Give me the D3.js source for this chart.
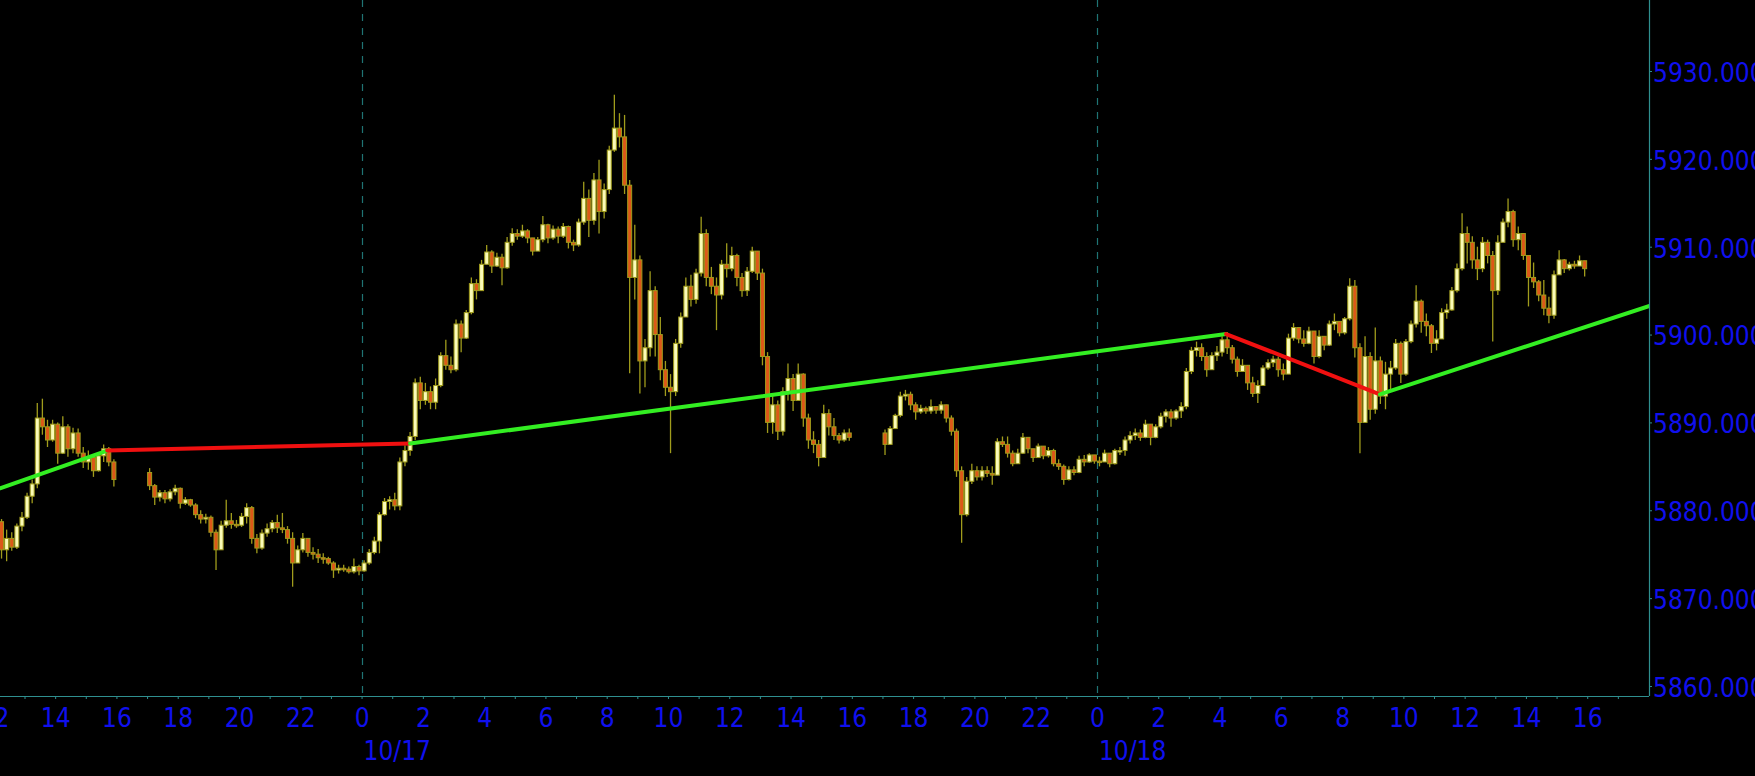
<!DOCTYPE html>
<html><head><meta charset="utf-8">
<script src="https://cdn.jsdelivr.net/npm/d3@7"></script>
<style>
html,body{margin:0;padding:0;background:#000;overflow:hidden}
svg{display:block;background:#000}
text{font-family:"DejaVu Sans Condensed","DejaVu Sans",sans-serif;font-stretch:condensed}
</style></head><body>
<svg id="c" width="1755" height="776"></svg>
<script>
// ---- data (10-minute OHLC bars) ----
const sessionStarts = ["2024-10-16T12:10Z", "2024-10-16T17:00Z", "2024-10-17T17:00Z"];
const barMinutes = 10;

const barsA = [ // 10/16 12:10 - 15:50
[5878.7,5879.0,5874.5,5875.5],[5875.5,5877.8,5874.2,5876.8],[5876.8,5877.5,5875.4,5875.8],[5875.8,5878.5,5875.6,5878.2],[5878.2,5879.8,5877.6,5879.2],
[5879.2,5882.0,5879.0,5881.6],[5881.6,5883.5,5880.8,5883.0],[5883.0,5892.2,5882.5,5890.5],[5890.5,5892.7,5888.6,5889.5],[5889.5,5890.3,5887.2,5888.0],[5888.0,5890.3,5887.8,5889.8],
[5889.8,5890.0,5885.3,5886.5],[5886.5,5890.7,5886.4,5889.5],[5889.5,5889.8,5886.1,5887.0],[5887.0,5889.4,5886.5,5888.8],[5888.8,5889.3,5886.1,5886.5],[5886.5,5887.2,5884.8,5885.5],
[5885.5,5886.8,5884.6,5886.0],[5886.0,5886.3,5883.8,5884.5],[5884.5,5886.5,5884.4,5886.2],[5886.2,5887.5,5885.5,5887.0],[5887.0,5887.2,5885.0,5885.5],[5885.5,5885.8,5882.7,5883.5]
];

const barsB = [ // 10/16 17:00 - 10/17 15:50
[5884.3,5884.8,5882.3,5882.8],[5882.8,5883.0,5880.6,5881.5],[5881.5,5882.3,5881.0,5882.0],[5882.0,5882.3,5880.8,5881.3],[5881.3,5882.4,5881.0,5882.1],[5882.1,5882.9,5881.7,5882.5],
[5882.5,5882.6,5880.2,5880.8],[5880.8,5881.5,5880.6,5881.2],[5881.2,5881.3,5880.4,5880.6],[5880.6,5880.8,5879.1,5879.5],[5879.5,5880.0,5878.5,5879.0],[5879.0,5879.6,5878.5,5879.2],
[5879.2,5879.4,5877.0,5877.5],[5877.5,5877.8,5873.2,5875.5],[5875.5,5878.8,5875.5,5878.3],[5878.3,5881.2,5878.0,5878.8],[5878.8,5879.7,5877.9,5878.4],[5878.4,5878.9,5878.0,5878.3],
[5878.3,5879.7,5878.1,5879.3],[5879.3,5880.8,5878.5,5880.3],[5880.3,5880.5,5876.2,5876.8],[5876.8,5877.3,5875.1,5875.7],[5875.7,5877.8,5875.5,5877.4],[5877.4,5878.5,5877.0,5877.9],
[5877.9,5878.9,5877.5,5878.6],[5878.6,5879.5,5877.4,5878.0],[5878.0,5879.7,5877.4,5877.8],[5877.8,5878.2,5876.2,5876.8],[5876.8,5877.5,5871.3,5874.0],[5874.0,5876.0,5874.0,5875.5],
[5875.5,5877.4,5875.2,5876.8],[5876.8,5876.8,5874.7,5875.2],[5875.2,5875.8,5874.4,5875.0],[5875.0,5875.6,5874.0,5874.6],[5874.6,5875.1,5873.9,5874.5],[5874.5,5874.7,5873.8,5874.0],
[5874.0,5874.2,5872.3,5873.2],[5873.2,5873.8,5872.8,5873.4],[5873.4,5873.8,5873.0,5873.3],[5873.3,5873.6,5872.8,5873.0],[5873.0,5874.5,5872.8,5873.6],[5873.6,5873.8,5872.6,5873.1],
[5873.1,5874.3,5873.0,5874.0],[5874.0,5875.6,5873.8,5875.2],[5875.2,5877.0,5875.0,5876.5],[5876.5,5879.8,5875.1,5879.5],[5879.5,5881.4,5879.4,5881.0],[5881.0,5881.6,5880.1,5881.2],
[5881.2,5882.0,5880.0,5880.5],[5880.5,5886.0,5880.0,5885.5],[5885.5,5887.4,5885.0,5886.8],[5886.8,5888.9,5886.2,5888.4],[5888.4,5895.0,5888.0,5894.5],[5894.5,5895.2,5891.5,5892.5],
[5892.5,5894.5,5892.0,5893.5],[5893.5,5894.1,5891.5,5892.3],[5892.3,5895.0,5891.5,5894.2],[5894.2,5898.0,5894.0,5897.6],[5897.6,5899.4,5896.0,5896.5],[5896.5,5897.5,5895.6,5896.0],
[5896.0,5901.7,5895.8,5901.2],[5901.2,5901.6,5898.0,5899.6],[5899.6,5902.8,5899.5,5902.5],[5902.5,5906.5,5902.3,5905.8],[5905.8,5906.3,5904.0,5905.0],[5905.0,5908.5,5905.0,5908.0],
[5908.0,5910.2,5908.0,5909.4],[5909.4,5909.6,5907.0,5907.8],[5907.8,5909.3,5907.7,5908.8],[5908.8,5909.2,5905.6,5907.6],[5907.6,5911.1,5907.5,5910.5],[5910.5,5912.1,5910.1,5911.5],
[5911.5,5912.0,5910.8,5911.2],[5911.2,5912.5,5911.0,5911.8],[5911.8,5912.0,5910.4,5911.0],[5911.0,5911.0,5909.0,5909.5],[5909.5,5911.1,5909.5,5910.8],[5910.8,5913.5,5910.5,5912.5],
[5912.5,5912.6,5910.4,5911.0],[5911.0,5912.4,5910.8,5912.0],[5912.0,5912.3,5910.4,5911.2],[5911.2,5912.7,5911.0,5912.3],[5912.3,5912.4,5909.8,5910.5],[5910.5,5910.8,5909.5,5910.2],
[5910.2,5913.2,5910.0,5912.8],[5912.8,5917.4,5912.5,5915.5],[5915.5,5916.5,5911.1,5913.0],[5913.0,5918.4,5912.5,5917.6],[5917.6,5919.9,5911.5,5914.0],[5914.0,5917.2,5913.2,5916.5],
[5916.5,5921.5,5916.0,5921.0],[5921.0,5927.3,5920.8,5923.5],[5923.5,5925.2,5921.3,5922.5],[5922.5,5925.0,5916.0,5917.0],[5917.0,5917.6,5895.6,5906.5],[5906.5,5912.5,5904.0,5908.5],
[5908.5,5909.0,5893.3,5897.0],[5897.0,5899.5,5894.0,5898.5],[5898.5,5907.2,5897.5,5905.0],[5905.0,5905.5,5897.5,5900.0],[5900.0,5902.0,5894.8,5896.0],[5896.0,5897.0,5893.0,5894.0],
[5894.0,5895.5,5886.5,5893.5],[5893.5,5899.5,5893.0,5899.0],[5899.0,5902.5,5898.5,5902.0],[5902.0,5906.5,5902.0,5905.5],[5905.5,5906.8,5903.2,5904.0],[5904.0,5907.5,5903.5,5907.0],
[5907.0,5913.4,5906.6,5911.5],[5911.5,5912.0,5905.5,5906.5],[5906.5,5907.7,5904.6,5905.5],[5905.5,5906.5,5900.5,5904.5],[5904.5,5908.5,5904.0,5908.0],[5908.0,5910.4,5906.5,5907.5],
[5907.5,5910.0,5907.2,5909.0],[5909.0,5909.2,5905.5,5906.5],[5906.5,5907.0,5904.3,5905.0],[5905.0,5907.7,5904.4,5907.2],[5907.2,5910.0,5907.0,5909.5],[5909.5,5909.5,5906.2,5907.0],
[5907.0,5907.5,5896.5,5897.5],[5897.5,5898.0,5888.8,5890.0],[5890.0,5893.0,5888.7,5892.0],[5892.0,5892.5,5888.0,5889.0],[5889.0,5894.0,5888.5,5893.5],[5893.5,5896.7,5892.5,5895.0],
[5895.0,5895.5,5891.3,5892.5],[5892.5,5896.7,5892.5,5895.5],[5895.5,5895.6,5889.5,5890.5],[5890.5,5891.0,5887.0,5888.0],[5888.0,5889.0,5886.5,5887.5],[5887.5,5888.0,5885.0,5886.0],
[5886.0,5892.0,5886.0,5891.0],[5891.0,5891.5,5888.5,5889.5],[5889.5,5890.5,5888.0,5888.5],[5888.5,5888.8,5887.6,5888.0],[5888.0,5889.2,5887.8,5888.8],[5888.8,5889.3,5887.9,5888.3]
];

const barsC = [ // 10/17 17:00 - 10/18 15:50
[5888.8,5889.2,5886.3,5887.5],[5887.5,5889.6,5887.5,5889.3],[5889.3,5891.0,5889.3,5890.8],[5890.8,5893.5,5890.6,5893.0],[5893.0,5893.7,5892.5,5893.2],[5893.2,5893.5,5891.4,5892.0],
[5892.0,5892.3,5890.3,5891.2],[5891.2,5892.0,5891.0,5891.6],[5891.6,5891.8,5891.0,5891.3],[5891.3,5892.6,5891.0,5891.8],[5891.8,5891.8,5891.0,5891.4],[5891.4,5892.4,5891.0,5892.0],
[5892.0,5892.0,5890.0,5890.5],[5890.5,5890.8,5888.5,5889.0],[5889.0,5889.3,5883.8,5884.5],[5884.5,5885.0,5876.3,5879.5],[5879.5,5883.8,5879.3,5883.3],[5883.3,5885.3,5883.0,5884.5],
[5884.5,5885.0,5883.4,5883.8],[5883.8,5885.0,5883.4,5884.5],[5884.5,5885.0,5883.8,5884.2],[5884.2,5885.0,5882.9,5884.0],[5884.0,5888.2,5884.0,5887.8],[5887.8,5888.4,5887.2,5887.5],
[5887.5,5888.4,5886.0,5886.5],[5886.5,5886.8,5885.0,5885.3],[5885.3,5887.0,5885.3,5886.5],[5886.5,5888.8,5886.4,5888.3],[5888.3,5888.3,5886.5,5887.0],[5887.0,5887.0,5885.5,5886.0],
[5886.0,5887.6,5886.0,5887.3],[5887.3,5887.3,5885.8,5886.2],[5886.2,5887.2,5886.0,5886.8],[5886.8,5887.0,5885.0,5885.3],[5885.3,5885.8,5884.6,5885.0],[5885.0,5885.2,5882.9,5883.5],
[5883.5,5885.0,5883.4,5884.6],[5884.6,5885.0,5884.0,5884.3],[5884.3,5886.2,5884.2,5885.8],[5885.8,5886.3,5885.0,5885.5],[5885.5,5886.5,5885.4,5886.3],[5886.3,5886.3,5885.3,5885.6],
[5885.6,5886.1,5885.0,5885.5],[5885.5,5886.9,5885.5,5886.5],[5886.5,5886.5,5884.9,5885.3],[5885.3,5887.0,5885.2,5886.8],[5886.8,5887.2,5886.3,5886.8],[5886.8,5888.4,5886.2,5888.0],
[5888.0,5889.0,5887.6,5888.5],[5888.5,5889.3,5888.0,5888.8],[5888.8,5889.2,5887.9,5888.3],[5888.3,5890.3,5888.2,5889.8],[5889.8,5889.8,5887.4,5888.3],[5888.3,5889.8,5888.2,5889.5],
[5889.5,5891.1,5889.3,5890.7],[5890.7,5891.5,5890.0,5891.2],[5891.2,5891.5,5889.5,5890.5],[5890.5,5891.5,5890.3,5891.3],[5891.3,5892.3,5890.5,5891.8],[5891.8,5896.2,5891.5,5895.8],
[5895.8,5898.6,5895.5,5898.2],[5898.2,5899.2,5897.5,5898.5],[5898.5,5899.0,5897.0,5897.5],[5897.5,5898.0,5895.2,5896.0],[5896.0,5898.0,5896.0,5897.6],[5897.6,5898.7,5897.0,5898.0],
[5898.0,5899.8,5897.5,5899.4],[5899.4,5900.3,5897.8,5898.5],[5898.5,5898.8,5896.7,5897.2],[5897.2,5897.5,5895.2,5895.8],[5895.8,5897.2,5895.8,5896.5],[5896.5,5896.5,5893.7,5894.5],
[5894.5,5895.2,5892.9,5893.3],[5893.3,5894.8,5892.2,5894.2],[5894.2,5896.5,5894.2,5896.2],[5896.2,5897.2,5896.0,5896.8],[5896.8,5897.6,5896.3,5897.2],[5897.2,5897.5,5895.2,5896.0],
[5896.0,5896.7,5894.8,5895.5],[5895.5,5900.1,5895.5,5899.6],[5899.6,5901.3,5899.3,5900.8],[5900.8,5900.8,5899.0,5899.5],[5899.5,5900.5,5898.6,5899.0],[5899.0,5900.9,5898.9,5900.4],
[5900.4,5900.4,5896.7,5897.5],[5897.5,5900.5,5897.3,5899.8],[5899.8,5899.8,5898.2,5898.8],[5898.8,5901.6,5898.7,5901.2],[5901.2,5902.4,5900.5,5901.5],[5901.5,5901.5,5899.8,5900.2],
[5900.2,5902.0,5900.0,5901.8],[5901.8,5906.4,5901.6,5905.5],[5905.5,5906.2,5897.4,5898.5],[5898.5,5899.0,5886.5,5890.0],[5890.0,5899.8,5890.0,5897.5],[5897.5,5898.0,5890.3,5891.5],
[5891.5,5900.8,5891.0,5897.0],[5897.0,5897.5,5892.1,5893.0],[5893.0,5896.9,5891.5,5895.5],[5895.5,5897.0,5893.8,5896.2],[5896.2,5899.5,5896.0,5899.0],[5899.0,5899.2,5894.5,5895.5],
[5895.5,5899.5,5895.3,5899.2],[5899.2,5901.6,5899.0,5901.2],[5901.2,5905.6,5900.8,5903.8],[5903.8,5904.0,5900.2,5901.5],[5901.5,5902.4,5899.8,5901.0],[5901.0,5901.2,5897.9,5899.0],
[5899.0,5900.5,5898.2,5899.5],[5899.5,5903.0,5899.5,5902.5],[5902.5,5903.5,5901.8,5902.8],[5902.8,5905.4,5902.7,5905.0],[5905.0,5908.1,5904.8,5907.5],[5907.5,5913.8,5907.3,5911.5],
[5911.5,5912.3,5908.1,5910.5],[5910.5,5911.2,5907.5,5908.5],[5908.5,5910.0,5906.2,5907.5],[5907.5,5911.1,5907.1,5910.5],[5910.5,5910.8,5908.1,5909.0],[5909.0,5909.5,5899.2,5905.0],
[5905.0,5911.3,5904.5,5910.5],[5910.5,5913.2,5910.5,5912.8],[5912.8,5915.5,5912.2,5914.0],[5914.0,5914.2,5910.0,5910.8],[5910.8,5912.3,5909.6,5911.5],[5911.5,5911.5,5908.5,5909.0],
[5909.0,5909.0,5903.2,5906.5],[5906.5,5908.2,5905.3,5906.0],[5906.0,5906.2,5903.8,5904.5],[5904.5,5906.2,5902.2,5903.0],[5903.0,5904.3,5901.3,5902.2],[5902.2,5907.3,5901.8,5906.8],
[5906.8,5909.6,5906.8,5908.5],[5908.5,5908.6,5907.0,5907.5],[5907.5,5908.3,5907.3,5908.0],[5908.0,5908.4,5907.5,5907.8],[5907.8,5909.0,5907.8,5908.4],[5908.4,5908.4,5906.6,5907.5]
];

// zig-zag pivots
const pivotTimes  = ["2024-10-16T12:12Z","2024-10-16T15:42Z","2024-10-17T01:35Z","2024-10-18T04:13Z","2024-10-18T09:14Z","2024-10-18T18:02Z"];
const pivotValues = [5882.5, 5886.8, 5887.6, 5900.06, 5893.2, 5903.25];
const legKinds    = ["up","down","up","down","up"];

const yTickValues = [5860,5870,5880,5890,5900,5910,5920,5930];
const dayTimes  = ["2024-10-17T00:00Z","2024-10-18T00:00Z"];
const dayLabels = ["10/17","10/18"];

// ---- drawing ----
const W = 1649, H = 696;
const FONT = '"DejaVu Sans Condensed","DejaVu Sans",sans-serif';
const C = {olive:"#a09c1c", up:"#fbfbb8", down:"#dc5818", axis:"#2f8f8f", dash:"#1f7474", text:"#1010ee", green:"#33ee22", red:"#f01010"};

const svg = d3.select("#c");
svg.append("rect").attr("width",1755).attr("height",776).attr("fill","#000");
svg.append("defs").append("clipPath").attr("id","clip").append("rect").attr("width",W).attr("height",H);

const x = d3.scaleUtc().domain([new Date("2024-10-16T12:12Z"), new Date("2024-10-18T18:01Z")]).range([0, W]);
const y = d3.scaleLinear().domain([5858.86, 5938.08]).range([H, 0]);

const plot = svg.append("g").attr("clip-path","url(#clip)");

// day separators
plot.selectAll("line.day").data(dayTimes).join("line")
  .attr("x1", d => Math.round(x(new Date(d))) + 0.5).attr("x2", d => Math.round(x(new Date(d))) + 0.5)
  .attr("y1", 0).attr("y2", H)
  .attr("stroke", C.dash).attr("stroke-width", 1.2).attr("stroke-dasharray", "7,7");

// candles
const allBars = [];
[barsA, barsB, barsC].forEach((bars, s) => {
  const t0 = new Date(sessionStarts[s]).getTime();
  bars.forEach((b, i) => allBars.push({t: new Date(t0 + (i * barMinutes + barMinutes / 2) * 60000), o:b[0], h:b[1], l:b[2], c:b[3]}));
});
const step = x(new Date(Date.UTC(2024,9,17,0,barMinutes))) - x(new Date(Date.UTC(2024,9,17,0,0)));
const bodyW = step * 0.78;

const cg = plot.append("g");
cg.selectAll("line.wick").data(allBars).join("line")
  .attr("x1", d => x(d.t)).attr("x2", d => x(d.t))
  .attr("y1", d => y(d.h)).attr("y2", d => y(d.l))
  .attr("stroke", C.olive).attr("stroke-width", 1.3);
cg.selectAll("rect.body").data(allBars).join("rect")
  .attr("x", d => x(d.t) - bodyW / 2).attr("width", bodyW)
  .attr("y", d => y(Math.max(d.o, d.c)))
  .attr("height", d => Math.max(1.5, Math.abs(y(d.o) - y(d.c))))
  .attr("fill", d => d.c >= d.o ? C.up : C.down)
  .attr("stroke", C.olive).attr("stroke-width", 1);

// zig-zag legs
const legs = legKinds.map((k, i) => ({k, a:[new Date(pivotTimes[i]), pivotValues[i]], b:[new Date(pivotTimes[i+1]), pivotValues[i+1]]}));
plot.selectAll("line.leg").data(legs).join("line")
  .attr("x1", d => x(d.a[0])).attr("y1", d => y(d.a[1]))
  .attr("x2", d => x(d.b[0])).attr("y2", d => y(d.b[1]))
  .attr("stroke", d => d.k === "up" ? C.green : C.red)
  .attr("stroke-width", 4).attr("stroke-linecap","round");

// x axis
const hourTicks = d3.utcHour.range(new Date("2024-10-16T12:00Z"), new Date("2024-10-18T18:00Z"));
const xAxis = svg.append("g").attr("transform", `translate(0,${H})`)
  .call(d3.axisBottom(x).tickValues(hourTicks).tickSize(3).tickSizeOuter(0)
    .tickFormat(d => d.getUTCHours() % 2 === 0 ? String(d.getUTCHours()) : ""));
xAxis.select(".domain").attr("stroke", C.axis).attr("stroke-width", 1.2).attr("d", `M0,0.5H${W}`);
xAxis.selectAll(".tick line").attr("stroke", C.axis);
xAxis.selectAll(".tick text").attr("y", 31).attr("dy", 0)
  .attr("fill", C.text).attr("font-size", 26).attr("font-family", FONT);

// day labels
svg.selectAll("text.dayl").data(dayLabels).join("text")
  .attr("x", (d, i) => x(new Date(dayTimes[i])) + 2).attr("y", H + 64)
  .attr("fill", C.text).attr("font-size", 26).attr("font-family", FONT).text(d => d);

// y axis
const yAxis = svg.append("g").attr("transform", `translate(${W},0)`)
  .call(d3.axisRight(y).tickValues(yTickValues).tickSize(3).tickPadding(1).tickSizeOuter(0).tickFormat(d3.format(".3f")));
yAxis.select(".domain").attr("stroke", C.axis).attr("stroke-width", 1.2).attr("d", `M0.5,0V${H}`);
yAxis.selectAll(".tick line").attr("stroke", C.axis);
yAxis.selectAll(".tick text").attr("fill", C.text).attr("font-size", 26).attr("dy", "0.4em")
  .attr("font-family", FONT);
</script>
</body></html>
